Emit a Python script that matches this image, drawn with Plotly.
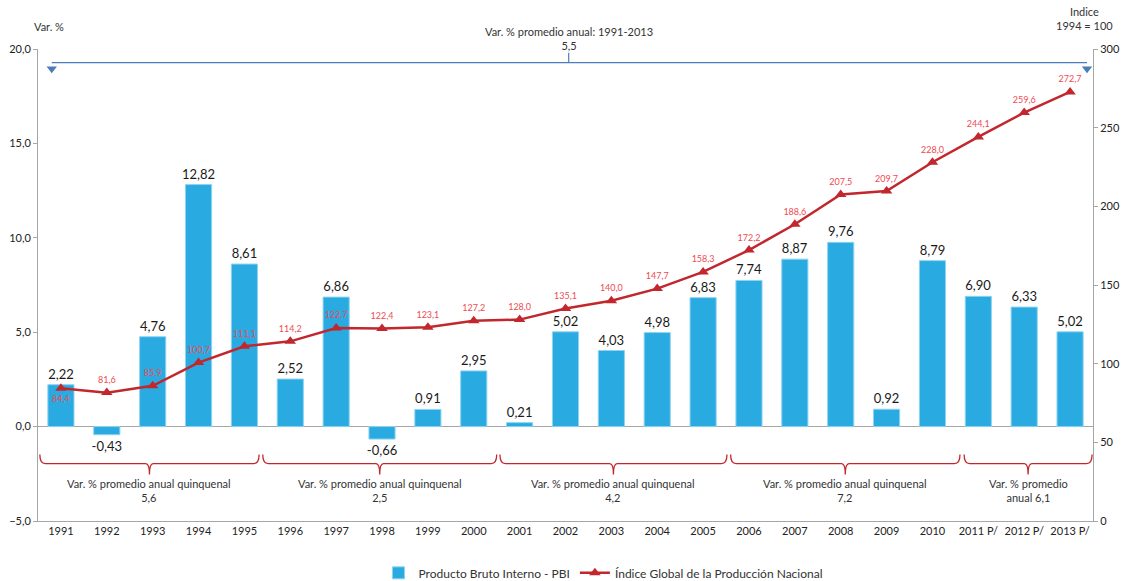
import plotly.graph_objects as go

years = ["1991", "1992", "1993", "1994", "1995", "1996", "1997", "1998", "1999", "2000",
         "2001", "2002", "2003", "2004", "2005", "2006", "2007", "2008", "2009", "2010",
         "2011 P/", "2012 P/", "2013 P/"]
pbi = [2.22, -0.43, 4.76, 12.82, 8.61, 2.52, 6.86, -0.66, 0.91, 2.95, 0.21, 5.02, 4.03,
       4.98, 6.83, 7.74, 8.87, 9.76, 0.92, 8.79, 6.90, 6.33, 5.02]
indice = [84.4, 81.6, 85.9, 100.7, 111.1, 114.2, 122.7, 122.4, 123.1, 127.2, 128.0, 135.1,
          140.0, 147.7, 158.3, 172.2, 188.6, 207.5, 209.7, 228.0, 244.1, 259.6, 272.7]
periodos = [("Var. % promedio anual quinquenal<br>5,6", -0.46, 4.32),
            ("Var. % promedio anual quinquenal<br>2,5", 4.40, 9.50),
            ("Var. % promedio anual quinquenal<br>4,2", 9.57, 14.52),
            ("Var. % promedio anual quinquenal<br>7,2", 14.60, 19.60),
            ("Var. % promedio<br>anual 6,1", 19.69, 22.48)]
promedio_total = "Var. % promedio anual: 1991-2013<br>5,5"

FONT = "Lato, Liberation Sans, sans-serif"
RED = "#c1272d"
LBLRED = "#ef4a52"
BLUE = "#29abe2"
idx = list(range(len(years)))

fig = go.Figure()
fig.add_trace(go.Bar(
    x=idx, y=pbi, name="Producto Bruto Interno - PBI",
    marker=dict(color=BLUE, line=dict(color="#8fd3f0", width=1)),
    width=0.57, texttemplate="%{y:.2f}", textposition="outside", constraintext="none",
    textfont=dict(size=13, color="#1a1a1a", family=FONT), cliponaxis=False,
))
pos = ["top center"] * len(indice)
pos[0] = "bottom center"
fig.add_trace(go.Scatter(
    x=idx, y=indice, yaxis="y2", name="Índice Global de la Producción Nacional",
    mode="lines+markers+text",
    line=dict(color=RED, width=2.5),
    marker=dict(symbol="triangle-up", size=10, color=RED),
    texttemplate="%{y:.1f}", textposition=pos,
    textfont=dict(size=9, color=LBLRED, family=FONT), cliponaxis=False,
))

shapes = []
annotations = []
# top bracket line
y_top = 19.28
shapes.append(dict(type="line", xref="x", yref="y", x0=-0.2, x1=22.37, y0=y_top, y1=y_top,
                   line=dict(color="#4a7ebb", width=1.2)))
shapes.append(dict(type="line", xref="x", yref="y", x0=11.07, x1=11.07, y0=y_top, y1=19.8,
                   line=dict(color="#4a7ebb", width=1.2)))
fig.add_trace(go.Scatter(x=[-0.2, 22.37], y=[18.95, 18.95], mode="markers", showlegend=False,
                         hoverinfo="skip",
                         marker=dict(symbol="triangle-down", size=9, color="#4a7ebb")))
annotations.append(dict(xref="x", yref="paper", x=11.07, y=0.989, yanchor="bottom",
                        text=promedio_total, showarrow=False,
                        font=dict(size=11, color="#333333", family=FONT)))

# bottom braces
yb = -1.96
for label, a, b in periodos:
    c = (a + b) / 2
    path = (f"M {a},{-1.48} Q {a},{yb} {a+0.12},{yb} L {c-0.08},{yb} "
            f"Q {c},{yb} {c},{-2.54} Q {c},{yb} {c+0.08},{yb} L {b-0.12},{yb} "
            f"Q {b},{yb} {b},{-1.48}")
    shapes.append(dict(type="path", xref="x", yref="y", path=path,
                       line=dict(color=RED, width=1.3)))
    annotations.append(dict(xref="x", yref="y", x=c, y=-2.58, yanchor="top", text=label,
                            showarrow=False, font=dict(size=11, color="#333333", family=FONT)))

annotations.append(dict(xref="paper", yref="paper", x=-0.006, y=1.03, xanchor="left",
                        yanchor="bottom", text="Var. %", showarrow=False,
                        font=dict(size=11, color="#333333", family=FONT)))
annotations.append(dict(xref="paper", yref="paper", x=0.9915, y=1.032, xanchor="center",
                        yanchor="bottom", text="Indice<br>1994 = 100", showarrow=False,
                        font=dict(size=11, color="#333333", family=FONT)))

fig.update_layout(
    width=1129, height=581,
    margin=dict(l=38, r=36, t=49, b=60, autoexpand=False),
    plot_bgcolor="white", paper_bgcolor="white",
    separators=",.",
    font=dict(family=FONT, size=11, color="#333333"),
    showlegend=True,
    legend=dict(orientation="h", x=0.536, xanchor="center", yref="container", y=0.014,
                yanchor="middle", font=dict(size=12, color="#333333"), traceorder="normal"),
    xaxis=dict(range=[-0.5, 22.5], tickmode="array", tickvals=idx, ticktext=years,
               showline=True, linecolor="#a6a6a6", ticks="", showgrid=False, zeroline=False,
               automargin=False, tickfont=dict(size=11, color="#222222")),
    yaxis=dict(range=[-5, 20], tickvals=[-5, 0, 5, 10, 15, 20], tickformat=".1f",
               showline=True, linecolor="#a6a6a6", ticks="outside", ticklen=4,
               tickcolor="#a6a6a6", showgrid=False, zeroline=True, zerolinecolor="#a6a6a6",
               zerolinewidth=1, automargin=False, tickfont=dict(size=11, color="#222222")),
    yaxis2=dict(range=[0, 300], tickvals=[0, 50, 100, 150, 200, 250, 300], overlaying="y",
                side="right", showline=True, linecolor="#a6a6a6", ticks="outside", ticklen=4,
                tickcolor="#a6a6a6", showgrid=False, zeroline=False, automargin=False,
                tickfont=dict(size=11, color="#222222")),
    shapes=shapes, annotations=annotations,
    bargap=0.4,
)

fig.write_html("out.html", config={"displayModeBar": False},
               post_script="document.body.style.margin='0';")
